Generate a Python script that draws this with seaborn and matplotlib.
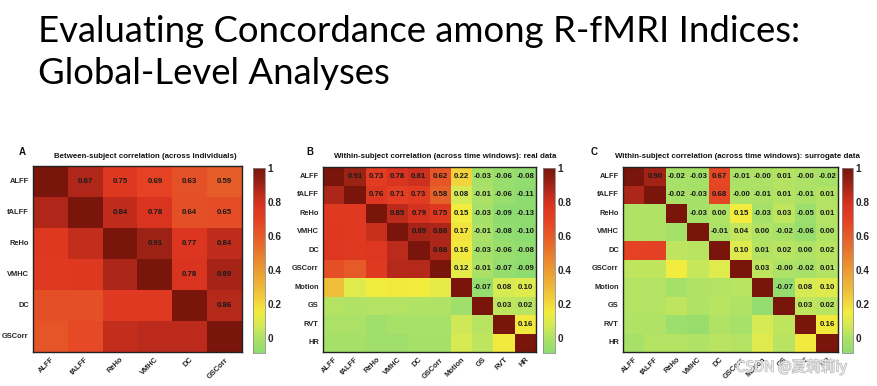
import numpy as np
import matplotlib
matplotlib.use("Agg")
import matplotlib.pyplot as plt
import matplotlib.patheffects as pe
import seaborn as sns
from matplotlib.colors import LinearSegmentedColormap

sns.set_style("white")
plt.rcParams['font.family'] = ['Liberation Sans', 'DejaVu Sans']

# ---------------- data ----------------
title_lines = ["Evaluating Concordance among R-fMRI Indices:", "Global-Level Analyses"]

labels_a = ["ALFF", "fALFF", "ReHo", "VMHC", "DC", "GSCorr"]
labels_bc = ["ALFF", "fALFF", "ReHo", "VMHC", "DC", "GSCorr", "Motion", "GS", "RVT", "HR"]

title_a = "Between-subject correlation (across individuals)"
title_b = "Within-subject correlation (across time windows): real data"
title_c = "Within-subject correlation (across time windows): surrogate data"

corr_a = [
    [1.00, 0.87, 0.75, 0.69, 0.63, 0.59],
    [0.87, 1.00, 0.84, 0.78, 0.64, 0.65],
    [0.75, 0.83, 1.00, 0.91, 0.77, 0.84],
    [0.74, 0.75, 0.88, 1.00, 0.78, 0.89],
    [0.64, 0.64, 0.74, 0.74, 1.00, 0.86],
    [0.62, 0.66, 0.83, 0.85, 0.85, 1.00],
]

# Panel B: real data
corr_b = [
    [1.00, 0.91, 0.73, 0.78, 0.81, 0.62, 0.22, -0.03, -0.06, -0.08],
    [0.88, 1.00, 0.76, 0.71, 0.73, 0.58, 0.08, -0.01, -0.06, -0.11],
    [0.74, 0.74, 1.00, 0.85, 0.79, 0.75, 0.15, -0.03, -0.09, -0.13],
    [0.75, 0.74, 0.82, 1.00, 0.89, 0.88, 0.17, -0.01, -0.08, -0.10],
    [0.76, 0.74, 0.76, 0.85, 1.00, 0.88, 0.16, -0.03, -0.06, -0.08],
    [0.64, 0.60, 0.74, 0.86, 0.86, 1.00, 0.12, -0.01, -0.07, -0.09],
    [0.28, 0.10, 0.15, 0.16, 0.15, 0.12, 1.00, -0.07, 0.08, 0.10],
    [0.01, 0.00, 0.01, 0.01, 0.00, 0.00, -0.04, 1.00, 0.03, 0.02],
    [-0.01, -0.01, -0.04, -0.02, -0.02, -0.02, 0.06, 0.02, 1.00, 0.16],
    [-0.03, -0.03, -0.04, -0.04, -0.03, -0.03, 0.08, 0.03, 0.16, 1.00],
]

# Panel C: surrogate data (-0.001 prints as "-0.00")
corr_c = [
    [1.00, 0.90, -0.02, -0.03, 0.67, -0.01, -0.001, 0.01, -0.001, -0.02],
    [0.88, 1.00, -0.02, -0.03, 0.68, -0.001, -0.01, 0.01, -0.01, 0.01],
    [0.00, 0.00, 1.00, -0.03, 0.00, 0.15, -0.03, 0.03, -0.05, 0.01],
    [0.00, 0.00, -0.03, 1.00, -0.01, 0.04, 0.00, -0.02, -0.06, 0.00],
    [0.69, 0.70, 0.03, 0.02, 1.00, 0.10, 0.01, 0.02, 0.00, 0.02],
    [0.03, 0.03, 0.15, 0.05, 0.10, 1.00, 0.03, -0.001, -0.02, 0.01],
    [0.01, 0.01, -0.03, 0.00, 0.01, 0.02, 1.00, -0.07, 0.08, 0.10],
    [0.01, 0.01, 0.03, 0.00, 0.02, 0.00, -0.07, 1.00, 0.03, 0.02],
    [0.00, 0.00, -0.05, -0.06, 0.00, -0.02, 0.08, 0.03, 1.00, 0.16],
    [-0.02, 0.01, 0.01, 0.00, 0.02, 0.01, 0.10, 0.02, 0.16, 1.00],
]

cbar_ticks = [0, 0.2, 0.4, 0.6, 0.8, 1]
cbar_ticklabels = ["0", "0.2", "0.4", "0.6", "0.8", "1"]
watermark = "CSDN @夏莉莉iy"

# ---------------- styling ----------------
VMIN, VMAX = -0.09, 1.0
nodes = [(-0.09, "#8edc70"), (0.0, "#b0e266"), (0.08, "#d8ea52"), (0.15, "#f2ec3e"),
         (0.22, "#f2d23c"), (0.3, "#eeb838"), (0.4, "#ea9a32"), (0.5, "#e87a2e"),
         (0.6, "#e65a28"), (0.66, "#e54a25"), (0.72, "#e33c22"), (0.78, "#da3420"),
         (0.84, "#c02c1c"), (0.88, "#ac2619"), (0.93, "#921f13"), (1.0, "#7a150b")]
cmap = LinearSegmentedColormap.from_list(
    "rfmri", [((v - VMIN) / (VMAX - VMIN), c) for v, c in nodes])

W, H = 878, 386
fig = plt.figure(figsize=(W / 100, H / 100), dpi=100)


def fr(x0, y0, x1, y1):
    return [x0 / W, 1 - y1 / H, (x1 - x0) / W, (y1 - y0) / H]


def panel(mat, labels, hm_box, cb_box, title, letter, title_x, letter_x, title_ha="center"):
    data = np.array(mat, dtype=float)
    n = len(labels)
    annot = np.full((n, n), "", dtype=object)
    for i in range(n):
        for j in range(i + 1, n):
            annot[i, j] = format(data[i, j], ".2f")
    ax = fig.add_axes(fr(*hm_box))
    cax = fig.add_axes(fr(*cb_box))
    sns.heatmap(data, ax=ax, cbar_ax=cax, cmap=cmap, vmin=VMIN, vmax=VMAX,
                annot=annot, fmt="", xticklabels=labels, yticklabels=labels,
                annot_kws=dict(fontsize=5.7, fontweight="bold", color="#1a1a1a"),
                cbar_kws=dict(ticks=cbar_ticks))
    for s in ax.spines.values():
        s.set_visible(True)
        s.set_linewidth(1.0)
        s.set_color("#222222")
    ax.tick_params(axis="both", which="both", direction="in", length=2.5, width=0.6,
                   top=True, right=True, bottom=True, left=True,
                   labelsize=5.4, pad=3)
    ax.set_yticklabels(labels, rotation=0, fontweight="bold", fontsize=5.4)
    ax.set_xticklabels(labels, rotation=45, ha="right", rotation_mode="anchor",
                       fontweight="bold", fontsize=5.4)
    cax.tick_params(labelsize=7.2, length=0, pad=2)
    cax.set_yticklabels(cbar_ticklabels)
    for t in cax.get_yticklabels():
        t.set_fontweight("bold")
    for s in cax.spines.values():
        s.set_visible(True)
        s.set_linewidth(0.4)
        s.set_color("#888888")
    fig.text(title_x / W, 1 - 156 / H, title, fontsize=5.7, fontweight="bold",
             ha=title_ha, va="center", color="#111111")
    fig.text(letter_x / W, 1 - 152 / H, letter, fontsize=7, fontweight="bold",
             ha="left", va="center", color="#111111")
    return ax


panel(corr_a, labels_a, (33, 166, 242, 352), (253, 168, 265, 353), title_a, "A", 145, 19)
panel(corr_b, labels_bc, (323, 167, 536, 352), (543, 168, 555, 353), title_b, "B", 445, 306)
panel(corr_c, labels_bc, (623, 167, 838, 352), (842, 168, 853, 353), title_c, "C", 615, 591,
      title_ha="left")

# big slide title
for k, line in enumerate(title_lines):
    fig.text(38 / W, 1 - (31 + 42 * k) / H, line, fontsize=26.3,
             family=["Lato", "DejaVu Sans"], ha="left", va="center", color="black")

fig.text(736 / W, 1 - 367 / H, watermark, fontsize=10.5,
         family=["Noto Sans CJK SC", "DejaVu Sans"], color="#f2f2f2", alpha=0.9,
         ha="left", va="center",
         path_effects=[pe.withStroke(linewidth=1.0, foreground="#b5b5b5")])

fig.savefig("out.png", dpi=100)
